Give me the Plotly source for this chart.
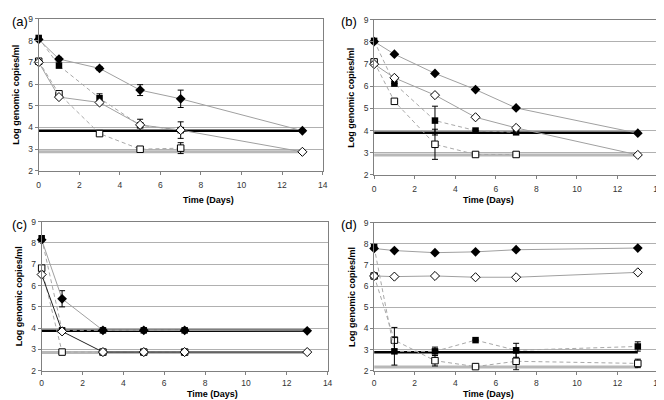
import plotly.graph_objects as go

# sampling days
days = [0, 1, 3, 5, 7, 13]

# panel (a)
a_fd = [8.05, 7.15, 6.72, 5.72, 5.32, 3.85]
a_fd_err = [0.05, 0.08, 0.08, 0.25, 0.4, 0.05]
a_od = [7.0, 5.4, 5.15, 4.12, 3.88, 2.88]
a_fs = [8.12, 6.85, 5.35, 4.1, 3.88, None]
a_fs_err = [0.05, 0.1, 0.2, 0.28, 0.38, 0]
a_os = [7.05, 5.55, 3.72, 3.0, 3.05, None]
a_os_err = [0.05, 0.05, 0.05, 0.1, 0.25, 0]
a_limits = [3.85, 2.88]

# panel (b)
b_fd = [8.02, 7.45, 6.58, 5.85, 5.02, 3.88]
b_fd_err = [0, 0, 0, 0, 0, 0]
b_od = [7.0, 6.38, 5.6, 4.6, 4.12, 2.9]
b_fs = [8.05, 6.12, 4.45, 4.0, 3.92, None]
b_fs_err = [0, 0, 0.65, 0, 0, 0]
b_os = [7.1, 5.32, 3.38, 2.92, 2.92, None]
b_os_err = [0, 0, 0.68, 0, 0, 0]
b_limits = [3.9, 2.9]

# panel (c)
c_fd = [8.15, 5.38, 3.9, 3.9, 3.9, 3.88]
c_fd_err = [0, 0.38, 0, 0, 0, 0]
c_od = [6.52, 3.85, 2.88, 2.88, 2.88, 2.88]
c_fs = [8.22, 3.9, 3.9, 3.9, 3.9, None]
c_fs_err = [0, 0, 0, 0, 0, 0]
c_os = [6.82, 2.88, 2.88, 2.88, 2.88, None]
c_os_err = [0, 0, 0, 0, 0, 0]
c_limits = [3.88, 2.86]

# panel (d)
d_fd = [7.78, 7.68, 7.58, 7.62, 7.72, 7.8]
d_fd_err = [0, 0, 0, 0, 0, 0]
d_od = [6.48, 6.45, 6.48, 6.42, 6.42, 6.65]
d_fs = [7.85, 2.92, 2.92, 3.45, 2.97, 3.15]
d_fs_err = [0, 0.65, 0.2, 0, 0.33, 0.22]
d_os = [6.48, 3.45, 2.48, 2.2, 2.45, 2.35]
d_os_err = [0, 0.6, 0.25, 0, 0.4, 0.2]
d_limits = [2.88, 2.18]

panels = [
    ("(a)", a_fd, a_fd_err, a_od, a_fs, a_fs_err, a_os, a_os_err, a_limits, "#a0a0a0"),
    ("(b)", b_fd, b_fd_err, b_od, b_fs, b_fs_err, b_os, b_os_err, b_limits, "#a0a0a0"),
    ("(c)", c_fd, c_fd_err, c_od, c_fs, c_fs_err, c_os, c_os_err, c_limits, "#222222"),
    ("(d)", d_fd, d_fd_err, d_od, d_fs, d_fs_err, d_os, d_os_err, d_limits, "#a0a0a0"),
]

# plot boxes in pixels: left, right, top, bottom, x-title offset, tick label standoff
W, H = 664, 400
boxes = [(29, 316, 6, 162, 30, 3), (368, 655, 7, 166, 26, 3),
         (32, 321, 214, 367, 24, 1), (368, 655, 215, 367, 24, 1)]
label_pos = [(0, 9), (332, 9), (0, 217), (332, 217)]

FONT = "Liberation Sans, Arial, sans-serif"
fig = go.Figure()

def err(vals):
    return dict(type="data", array=vals, color="black", thickness=1, width=3, visible=True)

for i, (lab, fd, fd_e, od, fs, fs_e, os_, os_e, lim, od_line) in enumerate(panels):
    n = "" if i == 0 else str(i + 1)
    xa, ya = "x" + n, "y" + n
    # detection limits
    fig.add_trace(go.Scatter(x=[days[0], days[-1]], y=[lim[1]] * 2, mode="lines",
                             line=dict(color="#b8b8b8", width=3), xaxis=xa, yaxis=ya, showlegend=False))
    fig.add_trace(go.Scatter(x=[days[0], days[-1]], y=[lim[0]] * 2, mode="lines",
                             line=dict(color="black", width=2.5), xaxis=xa, yaxis=ya, showlegend=False))
    # squares, dashed
    fig.add_trace(go.Scatter(x=days, y=os_, mode="lines+markers", connectgaps=True, cliponaxis=False,
                             line=dict(color="#a8a8a8", width=1, dash="4px,3px"),
                             marker=dict(symbol="square", size=6.5, color="white", line=dict(color="black", width=1)),
                             error_y=err(os_e), xaxis=xa, yaxis=ya, showlegend=False))
    fig.add_trace(go.Scatter(x=days, y=fs, mode="lines+markers", connectgaps=True, cliponaxis=False,
                             line=dict(color="#a8a8a8", width=1, dash="4px,3px"),
                             marker=dict(symbol="square", size=6.5, color="black"),
                             error_y=err(fs_e), xaxis=xa, yaxis=ya, showlegend=False))
    # diamonds, solid
    fig.add_trace(go.Scatter(x=days, y=od, mode="lines+markers", cliponaxis=False,
                             line=dict(color=od_line, width=1),
                             marker=dict(symbol="diamond", size=7, color="white", line=dict(color="black", width=1)),
                             xaxis=xa, yaxis=ya, showlegend=False))
    fig.add_trace(go.Scatter(x=days, y=fd, mode="lines+markers", cliponaxis=False,
                             line=dict(color="#a0a0a0", width=1),
                             marker=dict(symbol="diamond", size=7.5, color="black"),
                             error_y=err(fd_e), xaxis=xa, yaxis=ya, showlegend=False))

    l, r, t, b, off, so = boxes[i]
    fig.update_layout(**{
        "xaxis" + n: dict(domain=[l / W, r / W], range=[0, 14], dtick=2, anchor=ya,
                          showgrid=False, zeroline=False, showline=True, linecolor="#808080",
                          mirror=True, ticks="outside", ticklen=3, tickcolor="#808080",
                          ticklabelstandoff=so,
                          tickfont=dict(size=8.5, color="#333", family=FONT)),
        "yaxis" + n: dict(domain=[1 - b / H, 1 - t / H], range=[2, 9], dtick=1, anchor=xa,
                          showgrid=True, gridcolor="#b0b0b0", gridwidth=1, zeroline=False,
                          showline=True, linecolor="#808080", mirror=True,
                          ticks="outside", ticklen=3, tickcolor="#808080",
                          tickfont=dict(size=8.5, color="#333", family=FONT)),
    })
    fig.add_annotation(x=label_pos[i][0] / W, y=1 - label_pos[i][1] / H, xref="paper", yref="paper",
                       text=lab, showarrow=False, xanchor="left", yanchor="middle",
                       font=dict(size=13, color="black", family=FONT))
    fig.add_annotation(x=(l + r) / 2 / W, y=1 - (b + off) / H, xref="paper", yref="paper",
                       text="<b>Time (Days)</b>", showarrow=False, yanchor="middle",
                       font=dict(size=9, color="black", family=FONT))
    fig.add_annotation(x=(l - 23) / W, y=1 - (t + b) / 2 / H, xref="paper", yref="paper",
                       text="<b>Log genomic copies/ml</b>", showarrow=False, textangle=-90,
                       xanchor="center", yanchor="middle",
                       font=dict(size=9, color="black", family=FONT))

fig.update_layout(width=W, height=H, margin=dict(l=0, r=0, t=0, b=0),
                  plot_bgcolor="white", paper_bgcolor="white")

fig.write_html("out.html")
